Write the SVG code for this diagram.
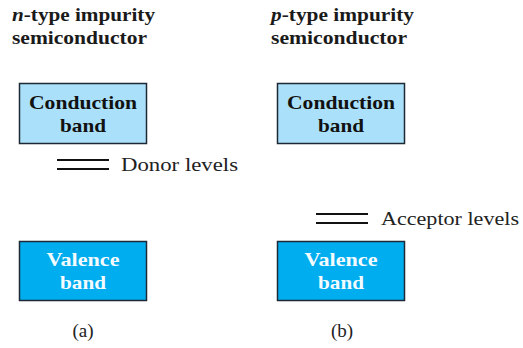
<svg xmlns="http://www.w3.org/2000/svg" width="523" height="348" viewBox="0 0 523 348">
<style>
.t{font-family:"Liberation Serif","Times New Roman",serif;font-weight:bold;font-size:18px;fill:#1a1a1a}
.bl{font-family:"Liberation Serif","Times New Roman",serif;font-weight:bold;font-size:19px;text-anchor:middle}
.cb{fill:#aae0f9;stroke:#1d2a36;stroke-width:1.5}
.vb{fill:#00adef;stroke:#1d2a36;stroke-width:1.5}
.lab{font-family:"Liberation Serif","Times New Roman",serif;font-size:19px;fill:#222}
.lv{stroke:#111;stroke-width:1.8}
</style>
<g id="title-a">
<text class="t" x="12" y="21" textLength="143" lengthAdjust="spacingAndGlyphs"><tspan font-style="italic">n</tspan>-type impurity</text>
<text class="t" x="12" y="44" textLength="135" lengthAdjust="spacingAndGlyphs">semiconductor</text>
</g>
<g id="title-b">
<text class="t" x="271" y="21" textLength="143" lengthAdjust="spacingAndGlyphs"><tspan font-style="italic">p</tspan>-type impurity</text>
<text class="t" x="271" y="44" textLength="136" lengthAdjust="spacingAndGlyphs">semiconductor</text>
</g>
<g id="conduction-a">
<rect class="cb" x="19.5" y="83.5" width="127" height="60"/>
<text class="bl" x="83" y="109" fill="#111" textLength="108" lengthAdjust="spacingAndGlyphs">Conduction</text>
<text class="bl" x="83" y="132" fill="#111" textLength="46" lengthAdjust="spacingAndGlyphs">band</text>
</g>
<g id="conduction-b">
<rect class="cb" x="277.5" y="83.5" width="127" height="60"/>
<text class="bl" x="341" y="109" fill="#111" textLength="108" lengthAdjust="spacingAndGlyphs">Conduction</text>
<text class="bl" x="341" y="132" fill="#111" textLength="46" lengthAdjust="spacingAndGlyphs">band</text>
</g>
<g id="valence-a">
<rect class="vb" x="19.5" y="241.5" width="127" height="59"/>
<text class="bl" x="83" y="266" fill="#f4fbff" textLength="73" lengthAdjust="spacingAndGlyphs">Valence</text>
<text class="bl" x="83" y="289" fill="#f4fbff" textLength="46" lengthAdjust="spacingAndGlyphs">band</text>
</g>
<g id="valence-b">
<rect class="vb" x="277.5" y="241.5" width="127" height="59"/>
<text class="bl" x="341" y="266" fill="#f4fbff" textLength="73" lengthAdjust="spacingAndGlyphs">Valence</text>
<text class="bl" x="341" y="289" fill="#f4fbff" textLength="46" lengthAdjust="spacingAndGlyphs">band</text>
</g>
<g id="donor-levels">
<line class="lv" x1="57" y1="160" x2="109" y2="160"/>
<line class="lv" x1="57" y1="169" x2="109" y2="169" stroke="#444"/>
<text class="lab" x="121" y="171" textLength="117" lengthAdjust="spacingAndGlyphs">Donor levels</text>
</g>
<g id="acceptor-levels">
<line class="lv" x1="316" y1="214" x2="368" y2="214"/>
<line class="lv" x1="316" y1="223" x2="368" y2="223"/>
<text class="lab" x="381" y="225" textLength="138" lengthAdjust="spacingAndGlyphs">Acceptor levels</text>
</g>
<g id="connectors"></g>
<g id="caption-a"><text class="lab" x="83" y="337" text-anchor="middle">(a)</text></g>
<g id="caption-b"><text class="lab" x="342" y="337" text-anchor="middle">(b)</text></g>
</svg>
